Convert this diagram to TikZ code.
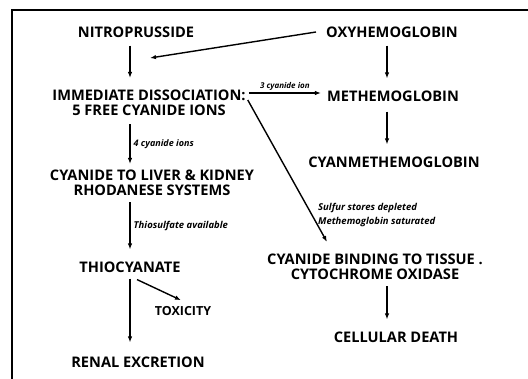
\documentclass[tikz,border=0pt]{standalone}
\usepackage{fontspec}
\setsansfont{Open Sans}
\usetikzlibrary{arrows.meta}

\begin{document}
\begin{tikzpicture}[x=1pt, y=-1pt,
    stage/.style={font=\sffamily\bfseries\fontsize{14.6}{15}\selectfont, align=center, inner sep=0pt},
    note/.style={font=\sffamily\bfseries\itshape\fontsize{9.5}{14}\selectfont, inner sep=0pt, align=left},
    flow/.style={line width=1.4pt, -{Latex[length=6pt,width=4.5pt]}}]

  \useasboundingbox (0,0) rectangle (528,379);
  % frame
  \draw[line width=1.5pt] (12,379) -- (12,10) -- (528,10);

  % left column
  \node[stage] (nitro)  at (136,32)  {NITROPRUSSIDE};
  \node[stage] (dissoc) at (149,103) {IMMEDIATE DISSOCIATION:\\5 FREE CYANIDE IONS};
  \node[stage] (liver)  at (152,183) {CYANIDE TO LIVER \& KIDNEY\\RHODANESE SYSTEMS};
  \node[stage] (thio)   at (130,267) {THIOCYANATE};
  \node[stage, font=\sffamily\bfseries\fontsize{12.5}{12}\selectfont] (toxic) at (183,311) {TOXICITY};
  \node[stage] (renal)  at (138,362) {RENAL EXCRETION};

  % right column
  \node[stage] (oxy)     at (392,32)  {OXYHEMOGLOBIN};
  \node[stage] (methb)   at (393,96)  {METHEMOGLOBIN};
  \node[stage] (cyanmet) at (394,162) {CYANMETHEMOGLOBIN};
  \node[stage] (bind)    at (375,267) {CYANIDE BINDING TO TISSUE .\\CYTOCHROME OXIDASE};
  \node[stage] (death)   at (396,337) {CELLULAR DEATH};

  \coordinate (axisL) at (130,0);
  \coordinate (axisR) at (387,0);
  \coordinate (merge) at (150,58);

  % connectors
  \draw[flow] ([yshift=-8pt]nitro.south -| axisL) -- ([yshift=12pt]dissoc.north -| axisL);
  \draw[flow] ([xshift=-10pt]oxy.west) -- (merge);
  \draw[flow] ([yshift=-8pt]oxy.south -| axisR) -- ([yshift=12pt]methb.north -| axisR);
  \draw[flow] ([xshift=3pt,yshift=3pt]dissoc.east |- methb.west) -- node[note, above=2pt, font=\sffamily\bfseries\itshape\fontsize{8}{7}\selectfont] {3 cyanide ion} ([xshift=-6pt,yshift=3pt]methb.west);
  \draw[flow] ([xshift=2pt,yshift=3pt]dissoc.east) -- ([xshift=-48pt,yshift=12pt]bind.north);
  \draw[flow] ([yshift=-10pt]methb.south -| axisR) -- ([yshift=12pt]cyanmet.north -| axisR);
  \draw[flow] ([yshift=-8pt]dissoc.south -| axisL) -- node[note, right=3pt, font=\sffamily\bfseries\itshape\fontsize{9}{14}\selectfont] {4 cyanide ions} ([yshift=6pt]liver.north -| axisL);
  \draw[flow] ([yshift=-6pt]liver.south -| axisL) -- node[note, right=3pt] {Thiosulfate available} ([yshift=12pt]thio.north -| axisL);
  \draw[flow] ([yshift=-6pt]thio.south -| axisL) -- ([yshift=14pt]renal.north -| axisL);
  \draw[flow] ([xshift=7pt,yshift=-7pt]thio.south -| axisL) -- ([xshift=-2pt,yshift=6pt]toxic.north);
  \draw[flow] ([yshift=-6pt]bind.south -| axisR) -- ([yshift=12pt]death.north -| axisR);

  \node[note, anchor=west] (sulfur) at (318,215) {Sulfur stores depleted\\Methemoglobin saturated};
\end{tikzpicture}
\end{document}
